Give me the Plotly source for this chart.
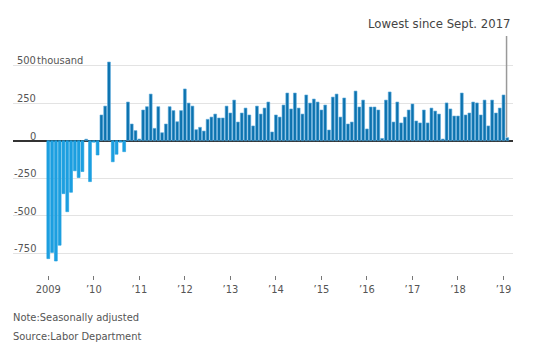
import plotly.graph_objects as go

# Monthly change in nonfarm payrolls, thousands, Jan 2009 - Feb 2019
values_2009 = [-784, -743, -800, -695, -352, -472, -343, -200, -245, -205, 10, -272]
values_2010 = [-10, -95, 171, 230, 523, -140, -90, -10, -73, 257, 111, 67]
values_2011 = [11, 204, 226, 310, 82, 226, 53, 111, 226, 200, 126, 200]
values_2012 = [344, 250, 230, 73, 89, 64, 142, 157, 177, 151, 151, 230]
values_2013 = [184, 270, 124, 184, 217, 171, 98, 230, 177, 217, 257, 58]
values_2014 = [171, 157, 237, 317, 211, 317, 217, 177, 304, 250, 277, 257]
values_2015 = [204, 237, 71, 290, 310, 157, 284, 111, 124, 330, 224, 270]
values_2016 = [78, 224, 224, 204, 15, 270, 324, 124, 257, 118, 157, 204]
values_2017 = [244, 131, 118, 204, 118, 217, 197, 177, 11, 251, 211, 164]
values_2018 = [164, 317, 171, 184, 257, 251, 171, 270, 98, 270, 184, 217]
values_2019 = [304, 20]

values = (values_2009 + values_2010 + values_2011 + values_2012 + values_2013 +
          values_2014 + values_2015 + values_2016 + values_2017 + values_2018 + values_2019)
months = list(range(len(values)))

x_tickvals = [0, 12, 24, 36, 48, 60, 72, 84, 96, 108, 120]
x_ticktext = ["2009", "’10", "’11", "’12", "’13", "’14", "’15", "’16", "’17", "’18", "’19"]
y_gridvals = [-750, -500, -250, 250, 500]
y_labelvals = [500, 250, 0, -250, -500, -750]
y_labeltext = ["500", "250", "0", "-250", "-500", "-750"]

POS = "#0c72ae"
POS_EDGE = "#5aaadb"
NEG = "#1c9fe0"
FONT = "Liberation Sans Narrow, DejaVu Sans Condensed, Roboto, sans-serif"
TXT = "#555555"

fig = go.Figure()
fig.add_trace(go.Bar(
    x=months, y=values,
    marker=dict(color=[POS if v >= 0 else NEG for v in values],
                line=dict(color=[POS_EDGE if v >= 0 else NEG for v in values], width=0.6)),
    hoverinfo="skip",
))

annotations = []
for v, t in zip(y_labelvals, y_labeltext):
    annotations.append(dict(xref="paper", yref="y", x=0.049, y=v, text=t,
                            xanchor="right", yanchor="bottom", showarrow=False,
                            font=dict(family=FONT, size=11, color=TXT), yshift=-4))
annotations.append(dict(xref="paper", yref="y", x=0.043, y=500, text="thousand",
                        xanchor="left", yanchor="bottom", showarrow=False,
                        font=dict(family=FONT, size=11, color=TXT), yshift=-4))
annotations.append(dict(xref="paper", yref="paper", x=1.0006, y=1.0245,
                        text="Lowest since Sept. 2017", xanchor="right", yanchor="middle",
                        showarrow=False, font=dict(family=FONT, size=13, color="#444444")))
annotations.append(dict(xref="paper", yref="paper", x=-0.004, y=-0.1755,
                        text="Note:Seasonally adjusted", xanchor="left", yanchor="middle",
                        showarrow=False, font=dict(family=FONT, size=11, color=TXT)))
annotations.append(dict(xref="paper", yref="paper", x=-0.004, y=-0.253,
                        text="Source:Labor Department", xanchor="left", yanchor="middle",
                        showarrow=False, font=dict(family=FONT, size=11, color=TXT)))

shapes = [dict(type="line", xref="x", yref="y", x0=months[-1] - 0.2, x1=months[-1] - 0.2,
               y0=values[-1] + 5, y1=696, line=dict(color="#999999", width=1.5))]

fig.update_layout(
    width=549, height=351,
    margin=dict(l=13, r=36, t=30, b=76),
    paper_bgcolor="white", plot_bgcolor="white",
    showlegend=False, bargap=0.25,
    annotations=annotations, shapes=shapes,
    xaxis=dict(range=[-9.3, 122.5], tickvals=x_tickvals, ticktext=x_ticktext,
               ticks="outside", ticklen=4, tickwidth=1, tickcolor="#777777",
               showgrid=False, zeroline=False, showline=False,
               tickfont=dict(family=FONT, size=11, color=TXT)),
    yaxis=dict(range=[-893, 736], tickvals=y_gridvals, showticklabels=False,
               showgrid=True, gridcolor="#e3e3e3", gridwidth=1,
               zeroline=True, zerolinecolor="#333333", zerolinewidth=1.5,
               showline=False, ticks=""),
)

fig.write_html("out.html")
